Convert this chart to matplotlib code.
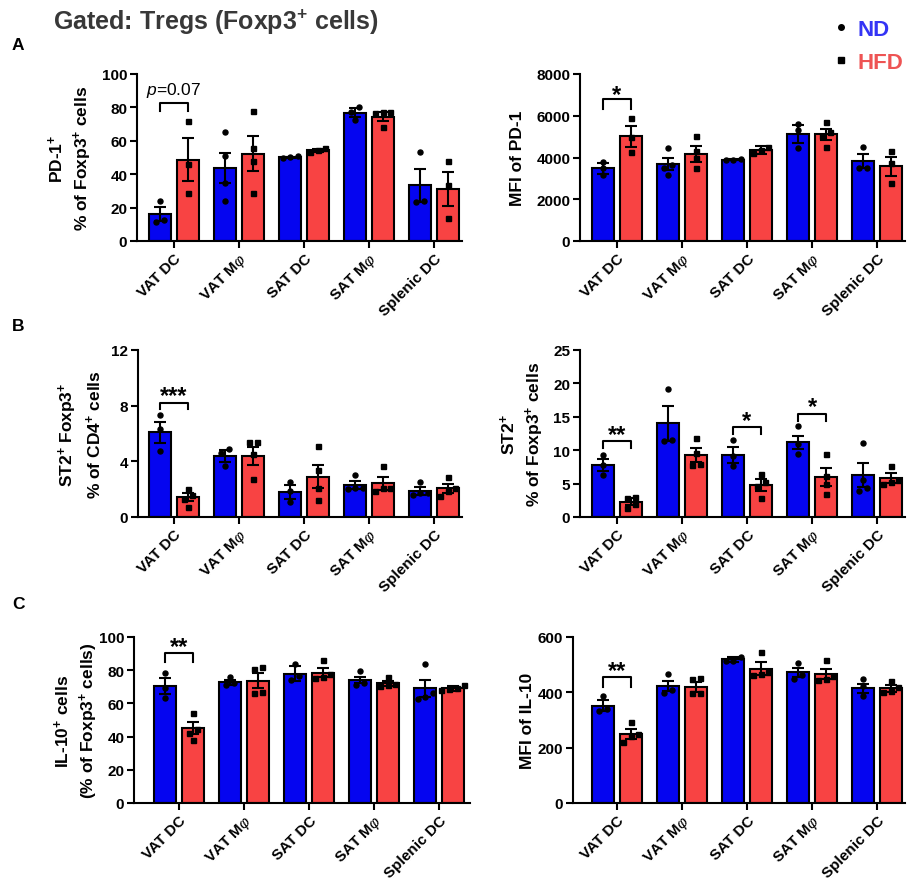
import matplotlib
matplotlib.use('Agg')
import matplotlib.pyplot as plt
from matplotlib.lines import Line2D
import numpy as np

plt.rcParams['font.family'] = ['Liberation Sans', 'DejaVu Sans']
plt.rcParams['font.weight'] = 'bold'
plt.rcParams['mathtext.fontset'] = 'custom'
plt.rcParams['mathtext.rm'] = 'Liberation Sans:bold'
plt.rcParams['mathtext.bf'] = 'Liberation Sans:bold'
plt.rcParams['mathtext.it'] = 'Liberation Sans:style=italic:weight=normal'

# ---- data ----
categories = ['VAT DC', 'VAT M$\\varphi$', 'SAT DC', 'SAT M$\\varphi$', 'Splenic DC']

# A left: PD-1+ % of Foxp3+ cells
pd1_pct_nd = [16.2, 43.8, 50.2, 76.8, 33.3]
pd1_pct_nd_sem = [4.3, 9.0, 0.3, 2.6, 9.7]
pd1_pct_hfd = [48.8, 52.3, 54.3, 74.5, 31.2]
pd1_pct_hfd_sem = [12.8, 10.5, 0.8, 2.6, 10.2]
pd1_pct_nd_pts = [[24, 12.5, 11.5], [65, 51, 35, 24], [50, 50.3, 50.6],
                  [80.5, 77.5, 72.5], [53, 24, 23.5]]
pd1_pct_hfd_pts = [[72, 46, 28.5], [78, 55.5, 48, 28.5], [55.5, 54.2, 53.5],
                   [77, 77, 76.5, 68], [48, 33.5, 14]]

# A right: MFI of PD-1
pd1_mfi_nd = [3480, 3680, 3890, 5120, 3840]
pd1_mfi_nd_sem = [260, 300, 20, 430, 320]
pd1_mfi_hfd = [5010, 4150, 4360, 5120, 3570]
pd1_mfi_hfd_sem = [520, 380, 180, 260, 440]
pd1_mfi_nd_pts = [[3800, 3500, 3150], [4450, 3650, 3500, 3150], [3880, 3890, 3910],
                  [5600, 5300, 4450], [4500, 3520, 3500]]
pd1_mfi_hfd_pts = [[5900, 5000, 4250], [5050, 4300, 4000, 3500], [4500, 4350, 4230],
                   [5700, 5200, 5050, 4520], [4300, 3750, 2800]]

# B left: ST2+ Foxp3+ % of CD4+ cells
st2_cd4_nd = [6.1, 4.4, 1.8, 2.3, 1.87]
st2_cd4_nd_sem = [0.75, 0.45, 0.5, 0.28, 0.27]
st2_cd4_hfd = [1.45, 4.4, 2.9, 2.42, 2.05]
st2_cd4_hfd_sem = [0.28, 0.65, 0.85, 0.45, 0.35]
st2_cd4_nd_pts = [[7.3, 6.3, 4.75], [4.9, 4.6, 3.7], [2.5, 1.9, 1.05],
                  [3.05, 2.1, 2.0, 2.05], [2.5, 1.75, 1.7, 1.55]]
st2_cd4_hfd_pts = [[2.0, 1.55, 1.3, 0.7], [5.4, 5.4, 4.5, 2.7], [5.1, 3.4, 2.1, 1.25],
                   [3.65, 2.1, 2.1, 1.9], [2.9, 2.05, 1.85, 1.5]]

# B right: ST2+ % of Foxp3+ cells
st2_foxp3_nd = [7.8, 14.0, 9.3, 11.2, 6.3]
st2_foxp3_nd_sem = [0.95, 2.6, 1.2, 1.0, 1.75]
st2_foxp3_hfd = [2.3, 9.3, 4.8, 6.0, 5.8]
st2_foxp3_hfd_sem = [0.5, 1.0, 0.85, 1.35, 0.75]
st2_foxp3_nd_pts = [[9.3, 7.8, 6.3], [19.2, 11.5, 11.4], [11.5, 9.2, 7.6],
                    [13.6, 11.0, 9.4], [11.1, 5.6, 4.4, 3.9]]
st2_foxp3_hfd_pts = [[3.05, 2.9, 2.0, 1.4], [11.9, 9.6, 7.9, 7.8], [6.5, 5.3, 4.6, 2.8],
                     [9.4, 6.1, 5.0, 3.5], [7.6, 5.6, 5.2, 5.0]]

# C left: IL-10+ cells (% of Foxp3+ cells)
il10_pct_nd = [70.3, 72.6, 78.0, 74.2, 69.0]
il10_pct_nd_sem = [4.8, 1.6, 4.8, 2.0, 5.0]
il10_pct_hfd = [45.0, 73.6, 78.6, 72.0, 69.0]
il10_pct_hfd_sem = [3.5, 4.5, 2.7, 1.6, 1.5]
il10_pct_nd_pts = [[78.5, 69.5, 63], [76, 72, 71], [83.5, 76.5, 74],
                   [79.5, 72.5, 71], [83.5, 66, 64, 62.5]]
il10_pct_hfd_pts = [[54.5, 44.5, 42, 38], [82, 81, 67, 66], [86, 77.6, 76.2, 75.6],
                    [76, 71.5, 71, 70.5], [71, 69.5, 68.5, 68]]

# C right: MFI of IL-10
il10_mfi_nd = [352, 424, 520, 472, 414]
il10_mfi_nd_sem = [20, 18, 9, 17, 15]
il10_mfi_hfd = [250, 421, 486, 466, 414]
il10_mfi_hfd_sem = [18, 18, 22, 18, 12]
il10_mfi_nd_pts = [[387, 340, 332], [468, 410, 398], [529, 515, 513],
                   [505, 462, 450], [448, 424, 388]]
il10_mfi_hfd_pts = [[294, 250, 243, 222], [452, 450, 398, 396], [544, 472, 468, 462],
                    [517, 460, 450, 445], [440, 418, 405, 400]]

# significance brackets: (group, bracket top, leg bottom, label, label y)
pd1_pct_sig = [(0, 82.5, 78, '$p$=0.07', 92)]
pd1_mfi_sig = [(0, 6800, 6300, '*', 7350)]
st2_cd4_sig = [(0, 8.2, 7.75, '***', 9.2)]
st2_foxp3_sig = [(0, 11.4, 10.4, '**', 13.4), (2, 13.4, 12.4, '*', 15.4),
                 (3, 15.4, 14.4, '*', 17.5)]
il10_pct_sig = [(0, 90.2, 85, '**', 98)]
il10_mfi_sig = [(0, 456, 420, '**', 502)]

ND_COLOR = '#0505F0'
HFD_COLOR = '#F84343'

W, H = 908, 879
fig = plt.figure(figsize=(W / 100, H / 100), dpi=100)
fig.patch.set_facecolor('white')

# panel layout in pixels: left, top, right, bottom, first tick x, ylabel x
panels = [
    dict(box=(137, 75, 462, 242), tick0=174, lab_x=70, ylim=100, yticks=[0, 20, 40, 60, 80, 100],
         ylabel='PD-1$^{+}$\n% of Foxp3$^{+}$ cells',
         nd=pd1_pct_nd, nds=pd1_pct_nd_sem, hfd=pd1_pct_hfd, hfds=pd1_pct_hfd_sem,
         ndp=pd1_pct_nd_pts, hfdp=pd1_pct_hfd_pts, sig=pd1_pct_sig),
    dict(box=(580, 75, 905, 242), tick0=617, lab_x=517, ylim=8000, yticks=[0, 2000, 4000, 6000, 8000],
         ylabel='MFI of PD-1',
         nd=pd1_mfi_nd, nds=pd1_mfi_nd_sem, hfd=pd1_mfi_hfd, hfds=pd1_mfi_hfd_sem,
         ndp=pd1_mfi_nd_pts, hfdp=pd1_mfi_hfd_pts, sig=pd1_mfi_sig),
    dict(box=(138, 351, 462, 518), tick0=174, lab_x=80, ylim=12, yticks=[0, 4, 8, 12],
         ylabel='ST2$^{+}$ Foxp3$^{+}$\n% of CD4$^{+}$ cells',
         nd=st2_cd4_nd, nds=st2_cd4_nd_sem, hfd=st2_cd4_hfd, hfds=st2_cd4_hfd_sem,
         ndp=st2_cd4_nd_pts, hfdp=st2_cd4_hfd_pts, sig=st2_cd4_sig),
    dict(box=(580, 351, 905, 518), tick0=617, lab_x=522, ylim=25, yticks=[0, 5, 10, 15, 20, 25],
         ylabel='ST2$^{+}$\n% of Foxp3$^{+}$ cells',
         nd=st2_foxp3_nd, nds=st2_foxp3_nd_sem, hfd=st2_foxp3_hfd, hfds=st2_foxp3_hfd_sem,
         ndp=st2_foxp3_nd_pts, hfdp=st2_foxp3_hfd_pts, sig=st2_foxp3_sig),
    dict(box=(134, 638, 470, 804), tick0=179, lab_x=76, ylim=100, yticks=[0, 20, 40, 60, 80, 100],
         ylabel='IL-10$^{+}$ cells\n(% of Foxp3$^{+}$ cells)',
         nd=il10_pct_nd, nds=il10_pct_nd_sem, hfd=il10_pct_hfd, hfds=il10_pct_hfd_sem,
         ndp=il10_pct_nd_pts, hfdp=il10_pct_hfd_pts, sig=il10_pct_sig),
    dict(box=(573, 638, 905, 804), tick0=617, lab_x=528, ylim=600, yticks=[0, 200, 400, 600],
         ylabel='MFI of IL-10',
         nd=il10_mfi_nd, nds=il10_mfi_nd_sem, hfd=il10_mfi_hfd, hfds=il10_mfi_hfd_sem,
         ndp=il10_mfi_nd_pts, hfdp=il10_mfi_hfd_pts, sig=il10_mfi_sig),
]

GROUP_PX = 65.0
BAR_W = 0.34
OFF = 0.21


def spread(vals, ymax):
    # small horizontal spread for points with nearly equal values
    vals = list(vals)
    offs = [0.0] * len(vals)
    order = np.argsort(vals)
    clusters = []
    for i in order:
        if clusters and abs(vals[i] - vals[clusters[-1][-1]]) < 0.035 * ymax:
            clusters[-1].append(i)
        else:
            clusters.append([i])
    for c in clusters:
        k = len(c)
        for j, i in enumerate(c):
            offs[i] = (j - (k - 1) / 2) * 0.12
    return offs


for p in panels:
    l, t, r, b = p['box']
    ax = fig.add_axes([l / W, 1 - b / H, (r - l) / W, (b - t) / H])
    ax.set_xlim((l - p['tick0']) / GROUP_PX, (r - p['tick0']) / GROUP_PX)
    ax.set_ylim(0, p['ylim'])
    x = np.arange(len(categories))
    ax.bar(x - OFF, p['nd'], BAR_W, color=ND_COLOR, edgecolor='black', linewidth=1.5, zorder=2)
    ax.bar(x + OFF, p['hfd'], BAR_W, color=HFD_COLOR, edgecolor='black', linewidth=1.5, zorder=2)
    ax.errorbar(x - OFF, p['nd'], yerr=p['nds'], fmt='none', ecolor='black',
                elinewidth=1.5, capsize=4.5, capthick=1.5, zorder=3)
    ax.errorbar(x + OFF, p['hfd'], yerr=p['hfds'], fmt='none', ecolor='black',
                elinewidth=1.5, capsize=4.5, capthick=1.5, zorder=3)
    for i in range(len(categories)):
        o = spread(p['ndp'][i], p['ylim'])
        ax.plot(i - OFF + np.array(o), p['ndp'][i], 'o', color='black', ms=3.6, zorder=4, clip_on=False)
        o = spread(p['hfdp'][i], p['ylim'])
        ax.plot(i + OFF + np.array(o), p['hfdp'][i], 's', color='black', ms=3.6, zorder=4, clip_on=False)

    for g, ytop, ybot, txt, ty in p['sig']:
        ax.plot([g - OFF, g - OFF, g + OFF, g + OFF], [ybot, ytop, ytop, ybot],
                color='black', lw=1.5, clip_on=False)
        if txt.startswith('$p$'):
            ax.annotate(txt, xy=(g, ty), xytext=(0, -4.5), textcoords='offset points',
                        ha='center', va='baseline', fontsize=12.5, fontweight='normal',
                        annotation_clip=False)
        else:
            ax.annotate(txt, xy=(g, ty), xytext=(0, -9.5), textcoords='offset points',
                        ha='center', va='baseline', fontsize=17, fontweight='bold',
                        annotation_clip=False)

    ax.set_yticks(p['yticks'])
    ax.set_xticks(x)
    ax.set_xticklabels(categories, rotation=45, ha='right', va='top',
                       rotation_mode='anchor', fontsize=11, fontweight='bold')
    ax.tick_params(axis='both', width=1.5, length=5, labelsize=11, pad=2)
    for lab in ax.get_yticklabels():
        lab.set_fontweight('bold')
    for s in ['top', 'right']:
        ax.spines[s].set_visible(False)
    for s in ['left', 'bottom']:
        ax.spines[s].set_linewidth(1.5)

    fig.text(p['lab_x'] / W, 1 - (t + b) / 2 / H, p['ylabel'], rotation=90,
             ha='center', va='center', multialignment='center',
             fontsize=12.5, fontweight='bold', linespacing=1.35)

# title, panel letters
fig.text(53 / W, 1 - 22 / H, 'Gated: Tregs (Foxp3$^{+}$ cells)', fontsize=18,
         fontweight='bold', color='#383838', ha='left', va='center')
for letter, ly in [('A', 46), ('B', 327), ('C', 605)]:
    fig.text(12 / W, 1 - ly / H, letter, fontsize=12.5, fontweight='bold', ha='left', va='center')

handles = [Line2D([], [], marker='o', color='black', ls='none', ms=4),
           Line2D([], [], marker='s', color='black', ls='none', ms=4)]
fig.legend(handles=handles, labels=['ND', 'HFD'], loc='upper left',
           bbox_to_anchor=(832 / W, 1 - 20 / H), frameon=False, borderaxespad=0,
           prop=dict(size=16, weight='bold'), labelcolor=['#3434F5', '#EE5454'],
           handlelength=0.8, handletextpad=0.35, labelspacing=0.55, borderpad=0)

fig.savefig('out.png', dpi=100, facecolor='white')
